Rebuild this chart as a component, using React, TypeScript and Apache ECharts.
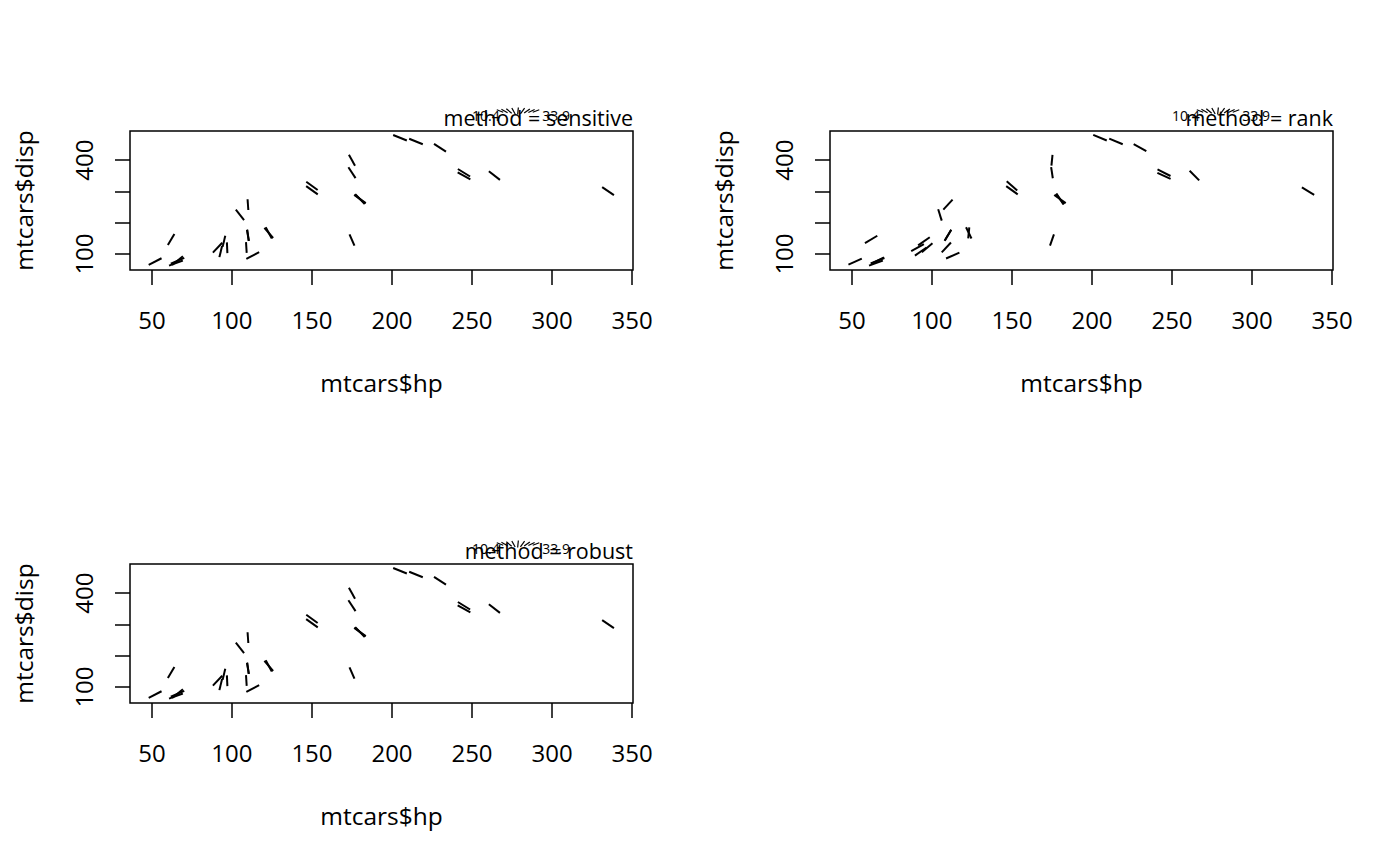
import React, { useEffect, useRef } from "react";
import * as echarts from "echarts";

// mtcars data
const hp = [110, 110, 93, 110, 175, 105, 245, 62, 95, 123, 123, 180, 180, 180, 205, 215, 230, 66, 52, 65, 97, 150, 150, 245, 175, 66, 91, 113, 264, 175, 335, 109];
const disp = [160, 160, 108, 258, 360, 225, 360, 146.7, 140.8, 167.6, 167.6, 275.8, 275.8, 275.8, 472, 460, 440, 78.7, 75.7, 71.1, 120.1, 318, 304, 350, 400, 79, 120.3, 95.1, 351, 145, 301, 121];
const mpg = [21, 21, 22.8, 21.4, 18.7, 18.1, 14.3, 24.4, 22.8, 19.2, 17.8, 16.4, 17.3, 15.2, 10.4, 10.4, 14.7, 32.4, 30.4, 33.9, 21.5, 15.5, 15.2, 13.3, 19.2, 27.3, 26, 30.4, 15.8, 19.7, 15, 21.4];

const methods = ["sensitive", "rank", "robust"];
const xTicks = [50, 100, 150, 200, 250, 300, 350];
const yTicks = [100, 200, 300, 400];
const yLabels = [100, 400];
const legendLow = "10.4";
const legendHigh = "33.9";

const FONT = "'Open Sans', 'Noto Sans', sans-serif";
const K = 5.15;
const T0 = 0.481;

function scaled(method: string): number[] {
  const lo = Math.min(...mpg);
  const hi = Math.max(...mpg);
  if (method === "rank") {
    const n = mpg.length;
    return mpg.map((v) => {
      let less = 0;
      let eq = 0;
      mpg.forEach((w) => {
        if (w < v) less++;
        else if (w === v) eq++;
      });
      const r = less + (eq + 1) / 2;
      return (r - 1) / (n - 1);
    });
  }
  return mpg.map((v) => (v - lo) / (hi - lo));
}

function dir(t: number) {
  const c = K * (T0 - t);
  const n = Math.hypot(c, 1);
  return [c / n, 1 / n];
}

const panels = [
  { left: 130, top: 131 },
  { left: 830, top: 131 },
  { left: 130, top: 564 },
];
const W = 503;
const H = 139;

export default function App() {
  const ref = useRef<HTMLDivElement>(null);
  useEffect(() => {
    document.body.style.margin = "0";
    const chart = echarts.init(ref.current!, null, { renderer: "svg" });
    const grids: any[] = [];
    const xAxes: any[] = [];
    const yAxes: any[] = [];
    const series: any[] = [];
    const graphics: any[] = [];
    panels.forEach((p, i) => {
      grids.push({
        left: p.left,
        top: p.top,
        width: W,
        height: H,
        show: true,
        borderColor: "#000",
        borderWidth: 1.5,
        backgroundColor: "transparent",
      });
      xAxes.push({
        gridIndex: i,
        type: "value",
        min: 36.3,
        max: 350.6,
        axisLine: { show: false },
        splitLine: { show: false },
        axisTick: { show: true, length: 15, customValues: xTicks, lineStyle: { color: "#000", width: 1.5 } },
        axisLabel: { customValues: xTicks, color: "#000", fontSize: 24, fontFamily: FONT, margin: 37 },
        name: "mtcars$hp",
        nameLocation: "middle",
        nameGap: 100,
        nameTextStyle: { color: "#000", fontSize: 24.5, fontFamily: FONT },
      });
      yAxes.push({
        gridIndex: i,
        type: "value",
        min: 48.9,
        max: 493.5,
        axisLine: { show: false },
        splitLine: { show: false },
        axisTick: { show: true, length: 15, customValues: yTicks, lineStyle: { color: "#000", width: 1.5 } },
        axisLabel: { customValues: yLabels, rotate: 90, color: "#000", fontSize: 24, fontFamily: FONT, margin: 35 },
        name: "mtcars$disp",
        nameLocation: "middle",
        nameGap: 94,
        nameTextStyle: { color: "#000", fontSize: 24.5, fontFamily: FONT },
      });
      const t = scaled(methods[i]);
      series.push({
        type: "custom",
        xAxisIndex: i,
        yAxisIndex: i,
        clip: false,
        data: hp.map((h, j) => [h, disp[j], t[j]]),
        encode: { x: 0, y: 1 },
        renderItem: (params: any, api: any) => {
          const pt = api.coord([api.value(0), api.value(1)]);
          const [ux, uy] = dir(api.value(2));
          const half = (10.5 + 4.5 * Math.abs(ux)) / 2;
          return {
            type: "line",
            shape: { x1: pt[0] - ux * half, y1: pt[1] - uy * half, x2: pt[0] + ux * half, y2: pt[1] + uy * half },
            style: { stroke: "#000", lineWidth: 2 },
          };
        },
      });
      const R = p.left + W;
      const T = p.top;
      graphics.push({
        type: "text",
        x: R,
        y: T - 14,
        style: { text: "method = " + methods[i], fill: "#000", fontSize: 21.5, fontFamily: FONT, align: "right", verticalAlign: "middle" },
      });
      graphics.push({
        type: "text",
        x: R - 161,
        y: T - 16,
        style: { text: legendLow, fill: "#000", fontSize: 14, fontFamily: FONT, align: "left", verticalAlign: "middle" },
      });
      graphics.push({
        type: "text",
        x: R - 63,
        y: T - 16,
        style: { text: legendHigh, fill: "#000", fontSize: 14, fontFamily: FONT, align: "right", verticalAlign: "middle" },
      });
      const nSeg = 9;
      for (let k = 0; k < nSeg; k++) {
        const tt = k / (nSeg - 1);
        const [ux, uy] = dir(tt);
        const cx = R - 133 + (36 * k) / (nSeg - 1);
        const cy = T - 20;
        const half = 3.5;
        graphics.push({
          type: "line",
          shape: { x1: cx - ux * half, y1: cy - uy * half, x2: cx + ux * half, y2: cy + uy * half },
          style: { stroke: "#000", lineWidth: 1.2 },
        });
      }
    });
    chart.setOption({
      animation: false,
      backgroundColor: "#fff",
      grid: grids,
      xAxis: xAxes,
      yAxis: yAxes,
      series,
      graphic: graphics,
    });
    return () => chart.dispose();
  }, []);
  return <div ref={ref} style={{ width: 1400, height: 866 }} />;
}
